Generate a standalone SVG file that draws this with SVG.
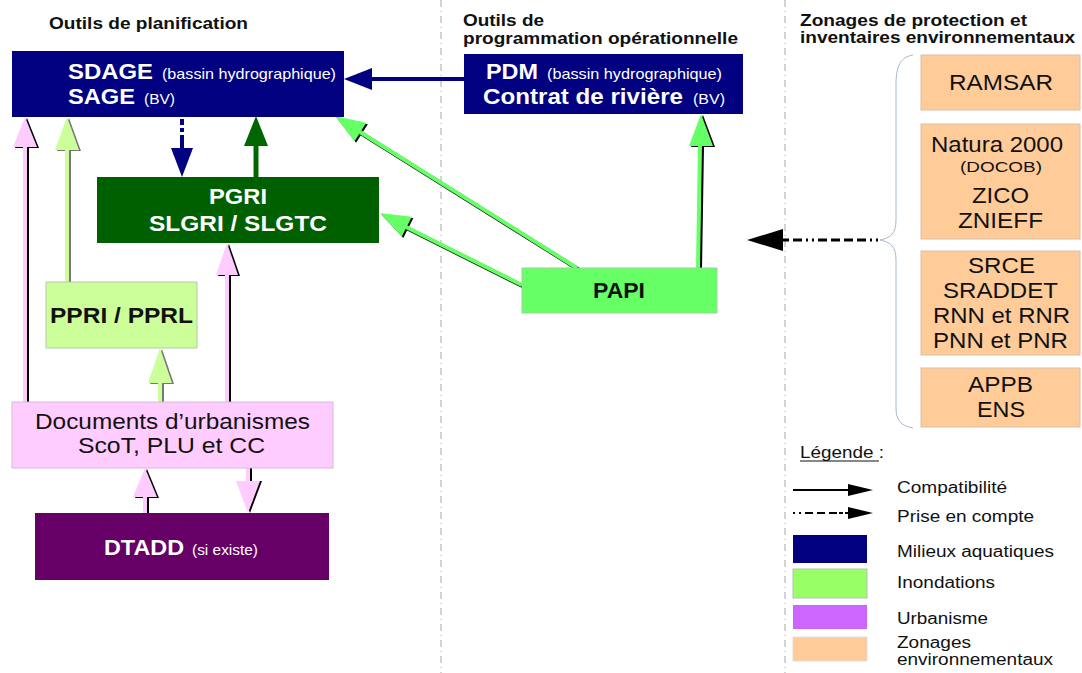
<svg xmlns="http://www.w3.org/2000/svg" width="1082" height="673" viewBox="0 0 1082 673">
<style>
text{font-family:"Liberation Sans",Arial,sans-serif}
.h{font-size:16px;font-weight:bold;fill:#111}
.bw{font-size:22px;font-weight:bold;fill:#fff}
.sw{font-size:15px;fill:#fff}
.bk{font-size:22px;fill:#111}
.bb{font-size:22px;font-weight:bold;fill:#111}
.sk{font-size:15px;fill:#111}
.lg{font-size:16px;fill:#111}
.sep{stroke:#a8a8a8;stroke-width:1;stroke-dasharray:7 4 1 4;fill:none}
.peach{fill:#ffcc99;stroke:#d8c0a8;stroke-width:1}
</style>
<rect width="1082" height="673" fill="#fff"/>
<g id="separators">
<line class="sep" x1="441" y1="0" x2="441" y2="673"/>
<line class="sep" x1="785" y1="0" x2="785" y2="673"/>
</g>
<g id="headers">
<text class="h" x="49" y="29" textLength="199" lengthAdjust="spacingAndGlyphs">Outils de planification</text>
<text class="h" x="463" y="26" textLength="81" lengthAdjust="spacingAndGlyphs">Outils de</text>
<text class="h" x="463" y="44" textLength="275" lengthAdjust="spacingAndGlyphs">programmation opérationnelle</text>
<text class="h" x="800" y="26" textLength="227" lengthAdjust="spacingAndGlyphs">Zonages de protection et</text>
<text class="h" x="800" y="43" textLength="275" lengthAdjust="spacingAndGlyphs">inventaires environnementaux</text>
</g>
<g id="connectors">
<g id="c-pdm-sdage">
<line x1="464" y1="79" x2="370" y2="79" stroke="#000080" stroke-width="4"/>
<polygon points="344,79 372,68 372,90" fill="#000080"/>
</g>
<g id="c-sdage-pgri">
<path d="M182 119V125M182 128V132M182 135V149" stroke="#000080" stroke-width="4" fill="none"/>
<polygon points="171,148 193,148 182,177" fill="#000080"/>
</g>
<g id="c-pgri-sdage">
<line x1="256" y1="177" x2="256" y2="144" stroke="#006600" stroke-width="5"/>
<polygon points="256,116 244,146 268,146" fill="#006600"/>
</g>
<g id="c-docs-sdage">
<g transform="translate(2,1)"><line x1="25" y1="402" x2="25" y2="146" stroke="#000" stroke-width="4"/><polygon points="25,117 13,147 37,147" fill="#000"/></g>
<line x1="25" y1="402" x2="25" y2="146" stroke="#ffccff" stroke-width="4"/><polygon points="25,117 13,147 37,147" fill="#ffccff"/>
</g>
<g id="c-ppri-sdage">
<g transform="translate(2,1)"><line x1="67" y1="282" x2="67" y2="149" stroke="#777" stroke-width="4"/><polygon points="67,117 55,150 79,150" fill="#777"/></g>
<line x1="67" y1="282" x2="67" y2="149" stroke="#ccff99" stroke-width="4"/><polygon points="67,117 55,150 79,150" fill="#ccff99"/>
</g>
<g id="c-docs-pgri">
<g transform="translate(2,1)"><line x1="227" y1="402" x2="227" y2="274" stroke="#000" stroke-width="4"/><polygon points="227,243 216,275 238,275" fill="#000"/></g>
<line x1="227" y1="402" x2="227" y2="274" stroke="#ffccff" stroke-width="4"/><polygon points="227,243 216,275 238,275" fill="#ffccff"/>
</g>
<g id="c-docs-ppri">
<g transform="translate(2,1)"><line x1="160" y1="402" x2="160" y2="382" stroke="#777" stroke-width="4"/><polygon points="160,348 148,383 172,383" fill="#777"/></g>
<line x1="160" y1="402" x2="160" y2="382" stroke="#ccff99" stroke-width="4"/><polygon points="160,348 148,383 172,383" fill="#ccff99"/>
</g>
<g id="c-dtadd-docs">
<g transform="translate(2,1)"><line x1="145" y1="513" x2="145" y2="496" stroke="#000" stroke-width="4"/><polygon points="145,468 133,497 157,497" fill="#000"/></g>
<line x1="145" y1="513" x2="145" y2="496" stroke="#ffccff" stroke-width="4"/><polygon points="145,468 133,497 157,497" fill="#ffccff"/>
</g>
<g id="c-docs-dtadd">
<g transform="translate(2,0)"><line x1="248" y1="468" x2="248" y2="482" stroke="#000" stroke-width="4"/><polygon points="236,481 260,481 248,513" fill="#000"/></g>
<line x1="248" y1="468" x2="248" y2="482" stroke="#ffccff" stroke-width="4"/><polygon points="236,481 260,481 248,513" fill="#ffccff"/>
</g>
<g id="c-papi-sdage">
<g transform="translate(1.5,1.5)"><line x1="577" y1="268" x2="360" y2="132" stroke="#000" stroke-width="4"/><polygon points="335,116 366.3,122.7 354.6,141.3" fill="#000"/></g>
<line x1="577" y1="268" x2="360" y2="132" stroke="#66ff66" stroke-width="4"/><polygon points="335,116 366.3,122.7 354.6,141.3" fill="#66ff66"/>
</g>
<g id="c-papi-pgri">
<g transform="translate(1.5,1.5)"><line x1="522" y1="285" x2="406" y2="227" stroke="#000" stroke-width="4"/><polygon points="380,213 411.8,216.8 401.8,236.4" fill="#000"/></g>
<line x1="522" y1="285" x2="406" y2="227" stroke="#66ff66" stroke-width="4"/><polygon points="380,213 411.8,216.8 401.8,236.4" fill="#66ff66"/>
</g>
<g id="c-papi-pdm">
<g transform="translate(2,1)"><line x1="698" y1="268" x2="700" y2="145" stroke="#000" stroke-width="4"/><polygon points="701,114 689,146 713,146" fill="#000"/></g>
<line x1="698" y1="268" x2="700" y2="145" stroke="#66ff66" stroke-width="4"/><polygon points="701,114 689,146 713,146" fill="#66ff66"/>
</g>
<g id="c-zonages">
<path d="M878 240H782" stroke="#000" stroke-width="3" stroke-dasharray="2 4 2 4 9 4 9 4 9 4 9 4" fill="none"/>
<polygon points="747,240 783,229 783,251" fill="#000"/>
</g>
</g>
<g id="n-sdage">
<rect x="12" y="51" width="332" height="66" fill="#000080"/>
<text class="bw" x="68" y="79" textLength="85" lengthAdjust="spacingAndGlyphs">SDAGE</text>
<text class="sw" x="162" y="79" textLength="174" lengthAdjust="spacingAndGlyphs">(bassin hydrographique)</text>
<text class="bw" x="68" y="104" textLength="67" lengthAdjust="spacingAndGlyphs">SAGE</text>
<text class="sw" x="144" y="104" textLength="31" lengthAdjust="spacingAndGlyphs">(BV)</text>
</g>
<g id="n-pdm">
<rect x="464" y="54" width="279" height="60" fill="#000080"/>
<text class="bw" x="486" y="79" textLength="52" lengthAdjust="spacingAndGlyphs">PDM</text>
<text class="sw" x="547" y="79" textLength="175" lengthAdjust="spacingAndGlyphs">(bassin hydrographique)</text>
<text class="bw" x="483" y="104" textLength="200" lengthAdjust="spacingAndGlyphs">Contrat de rivière</text>
<text class="sw" x="693" y="104" textLength="32" lengthAdjust="spacingAndGlyphs">(BV)</text>
</g>
<g id="n-pgri">
<rect x="97" y="177" width="282" height="66" fill="#006000"/>
<text class="bw" x="209" y="204" textLength="58" lengthAdjust="spacingAndGlyphs">PGRI</text>
<text class="bw" x="149" y="231" textLength="178" lengthAdjust="spacingAndGlyphs">SLGRI / SLGTC</text>
</g>
<g id="n-papi">
<rect x="522" y="268" width="195" height="45" fill="#66ff66" stroke="#9ad39a" stroke-width="1"/>
<text class="bb" x="593" y="298" textLength="52" lengthAdjust="spacingAndGlyphs">PAPI</text>
</g>
<g id="n-ppri">
<rect x="46" y="282" width="151" height="66" fill="#ccff99" stroke="#b8c8a8" stroke-width="1"/>
<text class="bb" x="50" y="323" textLength="143" lengthAdjust="spacingAndGlyphs">PPRI / PPRL</text>
</g>
<g id="n-docs">
<rect x="12" y="402" width="321" height="66" fill="#ffccff" stroke="#d8b8d8" stroke-width="1"/>
<text class="bk" x="35" y="429" textLength="275" lengthAdjust="spacingAndGlyphs">Documents d’urbanismes</text>
<text class="bk" x="78" y="453" textLength="187" lengthAdjust="spacingAndGlyphs">ScoT, PLU et CC</text>
</g>
<g id="n-dtadd">
<rect x="35" y="513" width="294" height="67" fill="#660066"/>
<text class="bw" x="104" y="555" textLength="80" lengthAdjust="spacingAndGlyphs">DTADD</text>
<text class="sw" x="192" y="555" textLength="66" lengthAdjust="spacingAndGlyphs">(si existe)</text>
</g>
<g id="n-brace">
<path d="M913 55C901 57 896 65 896 85L896 220C896 233 891 238 880 240C891 242 896 247 896 260L896 408C896 420 901 426 913 428" fill="none" stroke="#a8b8c8" stroke-width="1"/>
</g>
<g id="n-ramsar">
<rect class="peach" x="921" y="55" width="159" height="55"/>
<text class="bk" x="949" y="90" textLength="104" lengthAdjust="spacingAndGlyphs">RAMSAR</text>
</g>
<g id="n-natura">
<rect class="peach" x="921" y="124" width="159" height="115"/>
<text class="bk" x="931" y="152" textLength="132" lengthAdjust="spacingAndGlyphs">Natura 2000</text>
<text class="sk" x="960" y="172" textLength="82" lengthAdjust="spacingAndGlyphs">(DOCOB)</text>
<text class="bk" x="972" y="203" textLength="57" lengthAdjust="spacingAndGlyphs">ZICO</text>
<text class="bk" x="958" y="228" textLength="85" lengthAdjust="spacingAndGlyphs">ZNIEFF</text>
</g>
<g id="n-srce">
<rect class="peach" x="921" y="251" width="159" height="104"/>
<text class="bk" x="968" y="273" textLength="67" lengthAdjust="spacingAndGlyphs">SRCE</text>
<text class="bk" x="943" y="298" textLength="115" lengthAdjust="spacingAndGlyphs">SRADDET</text>
<text class="bk" x="933" y="323" textLength="137" lengthAdjust="spacingAndGlyphs">RNN et RNR</text>
<text class="bk" x="933" y="348" textLength="135" lengthAdjust="spacingAndGlyphs">PNN et PNR</text>
</g>
<g id="n-appb">
<rect class="peach" x="921" y="368" width="159" height="59"/>
<text class="bk" x="968" y="392" textLength="65" lengthAdjust="spacingAndGlyphs">APPB</text>
<text class="bk" x="977" y="417" textLength="48" lengthAdjust="spacingAndGlyphs">ENS</text>
</g>
<g id="legend">
<text class="lg" x="800" y="458" textLength="84" lengthAdjust="spacingAndGlyphs">Légende :</text>
<line x1="800" y1="461" x2="879" y2="461" stroke="#111" stroke-width="1"/>
<line x1="793" y1="490" x2="850" y2="490" stroke="#000" stroke-width="2"/>
<polygon points="873,490 848,484 848,496" fill="#000"/>
<text class="lg" x="897" y="493" textLength="110" lengthAdjust="spacingAndGlyphs">Compatibilité</text>
<path d="M793 513H850" stroke="#000" stroke-width="2" stroke-dasharray="2 4 2 4 8 4 8 4 8" fill="none"/>
<polygon points="873,513 848,507 848,519" fill="#000"/>
<text class="lg" x="897" y="522" textLength="137" lengthAdjust="spacingAndGlyphs">Prise en compte</text>
<rect x="793" y="535" width="74" height="28" fill="#000080"/>
<text class="lg" x="897" y="557" textLength="157" lengthAdjust="spacingAndGlyphs">Milieux aquatiques</text>
<rect x="793" y="569" width="74" height="29" fill="#99ff66" stroke="#bbb" stroke-width="1"/>
<text class="lg" x="897" y="588" textLength="98" lengthAdjust="spacingAndGlyphs">Inondations</text>
<rect x="793" y="605" width="74" height="24" fill="#cc66ff"/>
<text class="lg" x="897" y="624" textLength="91" lengthAdjust="spacingAndGlyphs">Urbanisme</text>
<rect x="793" y="637" width="74" height="24" fill="#ffcc99" stroke="#ddd" stroke-width="1"/>
<text class="lg" x="897" y="648" textLength="74" lengthAdjust="spacingAndGlyphs">Zonages</text>
<text class="lg" x="897" y="665" textLength="156" lengthAdjust="spacingAndGlyphs">environnementaux</text>
</g>
</svg>
